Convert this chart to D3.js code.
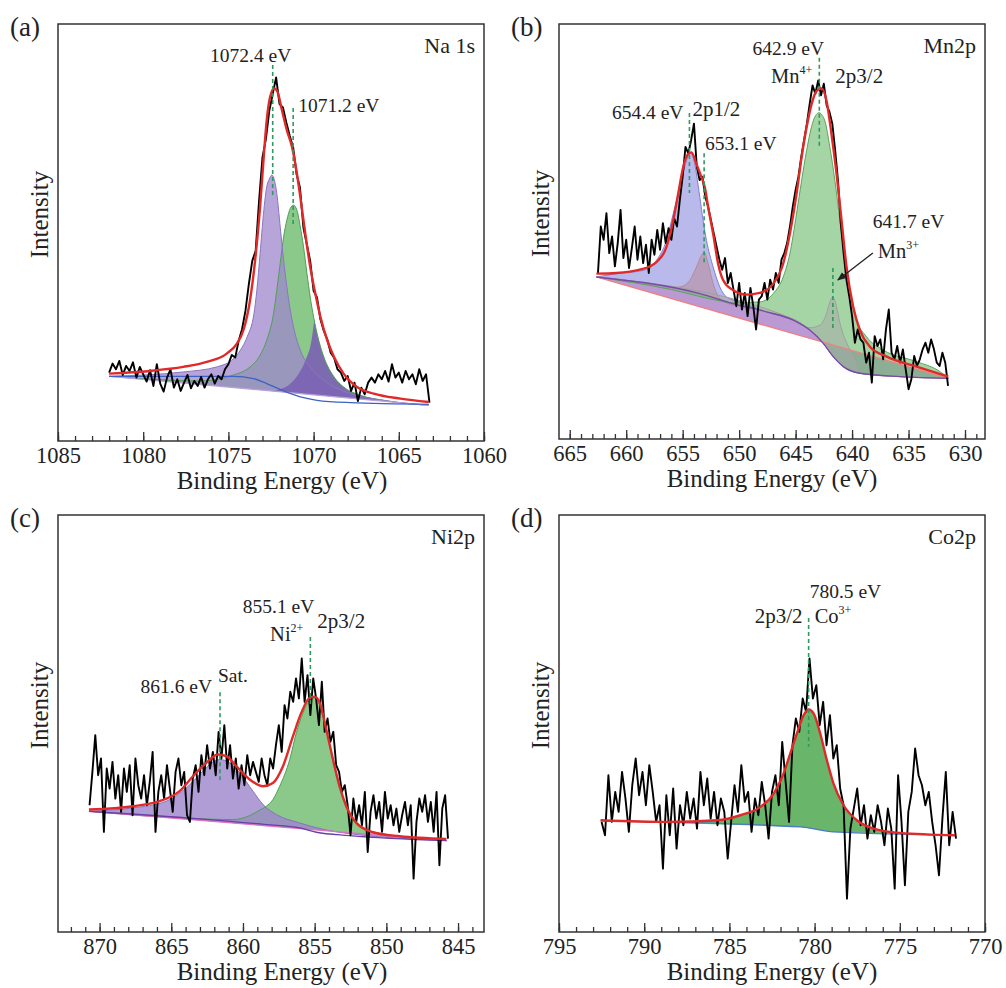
<!DOCTYPE html>
<html>
<head>
<meta charset="utf-8">
<script src="https://cdn.jsdelivr.net/npm/d3@7"></script>
<style>
body { margin: 0; background: #fff; }
svg text { font-family: "Liberation Serif", "Times New Roman", serif; fill: #222; }
</style>
</head>
<body>
<svg id="chart" width="1006" height="988"></svg>
<script>
// ---------- data (intensity in arbitrary units, 0..1250 = full box height) ----------

// (a) Na 1s
var naRawStart = 1082.0, naRawStep = -0.2;
var naRaw = [205,232,215,240,198,225,210,236,190,222,
  200,178,212,165,230,172,148,190,215,160,
  185,150,175,198,158,180,165,192,160,185,
  200,172,195,185,215,230,258,250,300,335,
  390,470,540,570,720,850,905,990,1040,1090,
  1010,1000,955,915,880,800,760,640,590,540,
  450,430,365,330,305,265,250,215,205,180,
  195,150,175,120,160,140,175,190,175,200,
  185,210,178,230,190,205,175,210,185,200,
  170,215,180,200,115];
var naBaseline = [[1082.0,194],[1063.24,107]];
var naShirley = [[1082.0,194],[1074.7,194],[1073.53,187],[1072.75,172],[1071.76,150],[1070.78,132],[1069.8,122],[1067.84,115],[1063.24,110]];
var naPeak1 = [[1082.0,194],[1077.65,207],[1075.69,222],[1074.7,247],[1074.3,272],[1073.9,312],[1073.5,382],[1073.33,452],[1073.14,562],[1072.94,682],[1072.75,762],[1072.6,785],[1072.45,797],[1072.3,782],[1072.16,742],[1071.96,642],[1071.76,542],[1071.57,462],[1071.37,392],[1071.18,342],[1070.78,272],[1070.2,222],[1069.4,182],[1067.84,142],[1065.9,122],[1063.24,107]];
var naPeak2 = [[1082.0,194],[1076.67,180],[1074.7,198],[1073.73,222],[1073.14,257],[1072.75,302],[1072.35,382],[1072.16,452],[1071.96,532],[1071.76,612],[1071.57,662],[1071.37,697],[1071.18,707],[1070.98,692],[1070.78,642],[1070.59,582],[1070.39,502],[1070.2,432],[1070.0,372],[1069.7,302],[1069.4,252],[1068.8,192],[1068.24,162],[1067.25,137],[1065.9,122],[1063.24,107]];
var naEnvelope = [[1082.0,202],[1079.6,210],[1077.65,222],[1076.27,237],[1075.1,262],[1074.5,292],[1074.12,332],[1073.73,422],[1073.43,542],[1073.14,702],[1072.94,842],[1072.75,962],[1072.55,1032],[1072.31,1057],[1072.12,1047],[1071.86,992],[1071.57,932],[1071.27,882],[1070.98,802],[1070.78,732],[1070.49,622],[1070.2,522],[1069.9,442],[1069.6,372],[1069.2,302],[1068.8,252],[1068.24,202],[1067.45,162],[1066.47,142],[1064.9,127],[1063.24,117]];
var naMarks = [1072.4, 1071.2];
var naMarkText = ["1072.4 eV", "1071.2 eV"];

// (b) Mn 2p
var mnRawStart = 662.5, mnRawStep = -0.25;
var mnRaw = [500,640,600,680,560,610,520,590,690,545,
  600,515,575,640,540,610,530,585,500,600,
  555,630,570,650,590,635,600,665,640,720,
  790,880,860,900,950,820,780,790,730,700,
  660,620,580,540,510,545,470,500,450,400,
  470,390,440,370,455,400,330,420,430,470,
  420,480,450,500,470,540,560,590,640,700,
  750,790,850,900,950,1010,1065,1040,1080,1035,
  1070,1005,985,950,870,780,650,560,480,430,
  370,290,330,300,290,230,260,170,310,280,
  300,240,330,390,260,240,280,230,270,210,
  150,180,250,220,240,270,290,260,300,270,
  230,220,260,230,160];
var mnBaseline = [[662.64,488],[631.48,183]];
var mnShirley = [[662.64,488],[653.48,438],[650.53,408],[647.58,383],[645.21,358],[643.74,328],[642.55,288],[641.67,248],[640.78,218],[639.31,198],[635.76,188],[631.48,183]];
var mnPeak654 = [[662.64,488],[660.87,498],[658.5,508],[657.32,538],[656.44,598],[655.84,678],[655.25,758],[654.66,838],[654.37,863],[654.07,848],[653.78,798],[653.48,728],[653.19,658],[652.89,598],[652.3,518],[651.71,458],[651.12,428],[649.94,413],[647.58,383],[644.62,350],[643.74,328],[642.55,288],[641.67,248],[640.78,218],[639.31,198],[635.76,188],[631.48,183]];
var mnPeak653 = [[662.64,488],[658.5,470],[656.44,455],[655.25,458],[654.37,478],[653.78,518],[653.33,553],[653.1,563],[652.74,528],[652.3,468],[651.71,423],[650.82,406],[649.94,400],[647.58,383],[644.62,350],[643.74,328],[642.55,288],[641.67,248],[640.78,218],[639.31,198],[635.76,188],[631.48,183]];
var mnPeak643 = [[662.64,488],[656.0,450],[652.0,418],[650.53,410],[648.17,413],[646.98,438],[646.1,488],[645.51,558],[644.92,678],[644.47,778],[644.03,868],[643.44,958],[643.15,978],[642.91,983],[642.65,975],[642.41,958],[641.96,878],[641.52,778],[641.08,658],[640.63,538],[640.19,438],[639.6,358],[638.72,308],[637.24,268],[634.29,233],[632.3,205],[631.48,183]];
var mnPeak642 = [[662.64,488],[645.0,358],[643.74,335],[642.85,343],[642.26,378],[641.96,413],[641.7,428],[641.37,398],[641.08,350],[640.78,315],[640.34,280],[639.6,230],[639.31,198],[635.76,188],[631.48,183]];
var mnEnvelope = [[662.64,498],[660.87,500],[658.8,510],[657.32,533],[656.44,578],[655.84,658],[655.4,738],[654.96,818],[654.52,858],[654.22,863],[653.78,828],[653.33,788],[653.04,758],[652.74,698],[652.3,618],[651.86,528],[651.41,478],[650.53,448],[649.35,435],[648.17,440],[646.98,468],[646.1,528],[645.51,618],[644.92,738],[644.47,848],[644.03,938],[643.59,1008],[643.15,1048],[642.7,1056],[642.26,1018],[641.82,918],[641.37,798],[640.93,658],[640.49,518],[639.9,398],[639.31,328],[638.42,278],[636.94,248],[634.29,218],[631.48,188]];
var mnMarks = [642.9, 654.4, 653.1, 641.7];
var mnMarkText = ["642.9 eV", "654.4 eV", "653.1 eV", "641.7 eV"];

// (c) Ni 2p
var niRawStart = 870.7, niRawStep = -0.2;
var niRaw = [380,480,590,470,520,300,490,430,510,400,
  470,360,490,420,500,350,520,440,400,470,
  380,450,540,300,420,470,400,500,430,360,
  480,520,440,480,350,330,460,500,420,530,
  470,560,490,540,470,600,520,620,490,560,
  460,520,430,500,440,530,470,510,480,450,
  520,470,440,520,490,560,620,540,680,640,
  720,690,760,700,820,690,770,650,760,700,
  620,750,600,640,570,600,500,480,420,440,
  380,290,400,330,380,320,420,240,360,410,
  340,390,300,420,340,380,320,370,300,350,
  390,320,380,160,330,400,360,410,330,390,
  300,420,200,370,410,280];
var niBaseline = [[870.74,362],[845.81,274]];
var niShirley = [[870.74,362],[863.02,339],[858.37,322],[856.05,312],[854.88,299],[852.56,289],[845.81,274]];
var niPeakSat = [[870.74,362],[867.67,372],[865.35,392],[863.95,432],[863.02,472],[862.33,502],[861.6,517],[860.93,507],[860.23,477],[859.3,422],[858.6,382],[857.67,352],[856.05,327],[853.72,302],[845.81,274]];
var niPeakMain = [[870.74,362],[863.5,340],[860.7,337],[859.53,349],[858.84,365],[858.37,377],[857.91,397],[857.44,437],[856.74,517],[856.28,597],[855.81,657],[855.35,695],[855.09,702],[854.77,692],[854.42,647],[853.95,557],[853.49,467],[853.02,397],[852.33,337],[851.4,307],[849.07,287],[845.81,274]];
var niEnvelope = [[870.74,367],[867.67,377],[865.81,392],[864.42,422],[863.49,467],[862.56,507],[861.74,532],[861.16,527],[860.47,497],[859.53,457],[858.6,437],[857.91,447],[857.21,497],[856.51,587],[855.93,657],[855.35,702],[855.0,705],[854.65,687],[854.19,607],[853.72,517],[853.26,437],[852.79,377],[852.09,327],[850.93,299],[849.07,287],[845.81,279]];
var niMarks = [855.3, 861.6];
var niMarkText = ["855.1 eV", "861.6 eV"];

// (d) Co 2p
var coRawStart = 792.5, coRawStep = -0.2;
var coRaw = [330,290,470,330,420,360,480,400,300,440,
  520,410,480,380,500,420,330,380,190,410,
  290,430,250,380,320,420,340,400,310,480,
  380,460,340,420,320,400,360,220,330,440,
  360,500,390,420,300,400,350,450,380,280,
  420,470,380,570,450,330,560,640,600,700,
  660,820,700,740,620,690,560,650,520,560,
  430,380,100,310,370,430,320,380,280,350,
  300,380,330,260,370,310,130,470,330,140,
  360,420,550,470,440,380,420,330,260,170,
  340,480,260,360,280];
var coBackground = [[792.56,333],[780.84,315],[778.89,300],[771.76,290]];
var coEnvelope = [[792.56,335],[788.65,330],[785.72,335],[784.36,350],[783.18,375],[782.4,415],[781.82,475],[781.43,535],[781.04,595],[780.64,650],[780.35,667],[780.06,655],[779.67,595],[779.28,515],[778.89,445],[778.3,380],[777.52,335],[776.54,310],[774.98,297],[771.76,290]];
var coMarks = [780.35];
var coMarkText = ["780.5 eV"];

function rawPoints(start, step, vals) {
  return vals.map(function(v, i) { return [start + i * step, v]; });
}

// ---------- panels ----------
var panels = [
  {id: "a", letter: "(a)", title: "Na 1s", box: [58, 24, 426, 417], domain: [1085, 1060], titleX: 282,
   raw: rawPoints(naRawStart, naRawStep, naRaw), envelope: naEnvelope,
   fills: [
     {pts: naPeak2, fill: "#6dbb6d", op: 0.8, stroke: "#4f9f55"},
     {pts: naPeak1, fill: "#9f86cc", op: 0.75, stroke: "#8b74c4"}
   ],
   overlap: {clip: naPeak1, pts: naPeak2, fill: "#7a62b2"},
   lines: [{pts: naBaseline, stroke: "#b9a0dc", w: 1.2}, {pts: naShirley, stroke: "#3d62c4", w: 1.3}],
   marks: naMarks,
   dashes: [{m: 0, i0: 1127, i1: 731}, {m: 1, i0: 998, i1: 642}],
   notes: [
     {m: 0, t: naMarkText[0], dx: -22, y: 38, a: "middle"},
     {m: 1, t: naMarkText[1], dx: 5, y: 88, a: "start"}
   ]},
  {id: "b", letter: "(b)", title: "Mn2p", box: [559, 24, 426, 415], domain: [665.95, 628.23], titleX: 772,
   raw: rawPoints(mnRawStart, mnRawStep, mnRaw), envelope: mnEnvelope,
   fills: [
     {pts: mnShirley, fill: "#8d55b5", op: 0.6, stroke: null},
     {pts: mnPeak654, floor: mnShirley, fill: "#8e8ee0", op: 0.62, stroke: "#7f80d6"},
     {pts: mnPeak653, floor: mnShirley, fill: "#b88a98", op: 0.55, stroke: "#b58a9a"},
     {pts: mnPeak643, floor: mnShirley, fill: "#6dbb6d", op: 0.62, stroke: "#5aa55a"},
     {pts: mnPeak642, floor: mnShirley, fill: "#a8a8a8", op: 0.5, stroke: "#a0a0a0"}
   ],
   lines: [{pts: mnBaseline, stroke: "#f08080", w: 1.3}, {pts: mnShirley, stroke: "#7a4aa8", w: 1.3}],
   marks: mnMarks,
   dashes: [{m: 0, i0: 1148, i1: 880}, {m: 1, i0: 982, i1: 741}, {m: 2, i0: 861, i1: 530}, {m: 3, i0: 515, i1: 334}],
   notes: [
     {m: 0, t: mnMarkText[0], dx: -31, y: 31, a: "middle"},
     {m: 0, t: "Mn", sup: "4+", dx: -7, y: 59, a: "end", s: 20.5},
     {m: 0, t: "2p3/2", dx: 16, y: 59, a: "start", s: 21},
     {m: 1, t: mnMarkText[1], dx: -6, y: 95, a: "end"},
     {m: 1, t: "2p1/2", dx: 3, y: 92, a: "start", s: 21},
     {m: 2, t: mnMarkText[2], dx: 1, y: 126, a: "start"},
     {m: 3, t: mnMarkText[3], dx: 40, y: 204, a: "start"},
     {m: 3, t: "Mn", sup: "3+", dx: 45, y: 234, a: "start", s: 20.5}
   ],
   arrow: {m: 3, x1: 40, y1: 229, x2: 5, y2: 256}},
  {id: "c", letter: "(c)", title: "Ni2p", box: [58, 515, 426, 417], domain: [872.9, 843.19], titleX: 282,
   raw: rawPoints(niRawStart, niRawStep, niRaw), envelope: niEnvelope,
   fills: [
     {pts: niPeakMain, fill: "#6dbb6d", op: 0.8, stroke: "#4f9f55"},
     {pts: niPeakSat, fill: "#9e84cc", op: 0.8, stroke: "#8a6fc4"}
   ],
   overlap: {clip: niPeakSat, pts: niPeakMain, fill: "#6e58aa"},
   lines: [{pts: niBaseline, stroke: "#e070c0", w: 1.3}, {pts: niShirley, stroke: "#6a3fa8", w: 1.3}],
   marks: niMarks,
   dashes: [{m: 0, i0: 884, i1: 675}, {m: 1, i0: 719, i1: 456}],
   notes: [
     {m: 0, t: niMarkText[0], dx: 4, y: 98, a: "end"},
     {m: 0, t: "Ni", sup: "2+", dx: -7, y: 126, a: "end", s: 20.5},
     {m: 0, t: "2p3/2", dx: 7, y: 113, a: "start", s: 21},
     {m: 1, t: niMarkText[1], dx: -8, y: 178, a: "end"},
     {m: 1, t: "Sat.", dx: -2, y: 167, a: "start"}
   ]},
  {id: "d", letter: "(d)", title: "Co2p", box: [559, 515, 426, 417], domain: [795, 770], titleX: 772,
   raw: rawPoints(coRawStart, coRawStep, coRaw), envelope: coEnvelope,
   fills: [
     {pts: coEnvelope, floor: coBackground, fill: "#4fa84f", op: 0.85, stroke: null}
   ],
   lines: [{pts: coBackground, stroke: "#4a7ac8", w: 1.3}],
   marks: coMarks,
   dashes: [{m: 0, i0: 941, i1: 555}],
   notes: [
     {m: 0, t: coMarkText[0], dx: 1, y: 83, a: "start"},
     {m: 0, t: "2p3/2", dx: -6, y: 108, a: "end", s: 21},
     {m: 0, t: "Co", sup: "3+", dx: 6, y: 108, a: "start", s: 20.5}
   ]}
];

var FONT = '"Liberation Serif", "Times New Roman", serif';
var svg = d3.select("#chart");
var yDomain = [0, 1250];

svg.append("defs").append("marker")
  .attr("id", "arrowhead")
  .attr("viewBox", "0 0 10 10")
  .attr("refX", 9).attr("refY", 5)
  .attr("markerWidth", 7).attr("markerHeight", 7)
  .attr("orient", "auto")
  .append("path").attr("d", "M0,1L10,5L0,9Z").attr("fill", "#222");

function drawPanel(p) {
  var bx = p.box[0], by = p.box[1], bw = p.box[2], bh = p.box[3];
  var g = svg.append("g").attr("transform", `translate(${bx},${by})`);

  var x = d3.scaleLinear().domain(p.domain).range([0, bw]);
  var y = d3.scaleLinear().domain(yDomain).range([bh, 0]);

  var smooth = d3.line().x(d => x(d[0])).y(d => y(d[1])).curve(d3.curveMonotoneX);
  var straight = d3.line().x(d => x(d[0])).y(d => y(d[1]));

  function areaPath(f) {
    if (f.floor) {
      var back = f.floor.slice().reverse();
      return smooth(f.pts) + "L" + straight(back).slice(1) + "Z";
    }
    return smooth(f.pts) + "Z";
  }

  // component fills
  p.fills.forEach(function(f) {
    g.append("path").attr("d", areaPath(f))
      .attr("fill", f.fill).attr("fill-opacity", f.op).attr("stroke", "none");
  });

  // where two components overlap, darker tone
  if (p.overlap) {
    var cid = "clip-" + p.id;
    svg.select("defs").append("clipPath").attr("id", cid)
      .append("path").attr("d", smooth(p.overlap.clip) + "Z")
      .attr("transform", `translate(${bx},${by})`);
    svg.append("path").attr("d", smooth(p.overlap.pts) + "Z")
      .attr("transform", `translate(${bx},${by})`)
      .attr("clip-path", `url(#${cid})`)
      .attr("fill", p.overlap.fill).attr("fill-opacity", 0.9);
  }

  var top = svg.append("g").attr("transform", `translate(${bx},${by})`);

  p.fills.forEach(function(f) {
    if (!f.stroke) return;
    top.append("path").attr("d", smooth(f.pts))
      .attr("fill", "none").attr("stroke", f.stroke).attr("stroke-width", 1);
  });

  p.lines.forEach(function(l) {
    top.append("path").attr("d", smooth(l.pts))
      .attr("fill", "none").attr("stroke", l.stroke).attr("stroke-width", l.w);
  });

  // measured spectrum
  top.append("path").attr("d", straight(p.raw))
    .attr("fill", "none").attr("stroke", "#000").attr("stroke-width", 1.9)
    .attr("stroke-linejoin", "round");

  // fitted envelope
  top.append("path").attr("d", smooth(p.envelope))
    .attr("fill", "none").attr("stroke", "#e02a2a").attr("stroke-width", 2.4);

  // peak markers
  p.dashes.forEach(function(d) {
    var xm = x(p.marks[d.m]);
    top.append("line")
      .attr("x1", xm).attr("x2", xm).attr("y1", y(d.i0)).attr("y2", y(d.i1))
      .attr("stroke", "#2e9a5e").attr("stroke-width", 1.6).attr("stroke-dasharray", "4,3");
  });

  p.notes.forEach(function(n) {
    var xm = x(p.marks[n.m]);
    var t = top.append("text")
      .attr("x", xm + n.dx).attr("y", n.y)
      .attr("text-anchor", n.a)
      .attr("font-family", FONT)
      .attr("font-size", n.s || 19.5)
      .text(n.t);
    if (n.sup) {
      t.append("tspan").attr("dy", -9).attr("font-size", 12).text(n.sup);
    }
  });

  if (p.arrow) {
    var xa = x(p.marks[p.arrow.m]);
    top.append("line")
      .attr("x1", xa + p.arrow.x1).attr("y1", p.arrow.y1)
      .attr("x2", xa + p.arrow.x2).attr("y2", p.arrow.y2)
      .attr("stroke", "#222").attr("stroke-width", 1.3)
      .attr("marker-end", "url(#arrowhead)");
  }

  // frame
  top.append("rect").attr("width", bw).attr("height", bh)
    .attr("fill", "none").attr("stroke", "#333").attr("stroke-width", 1.5);

  // ticks: minor every 1 eV, major every 5 eV, pointing inward
  var lo = Math.ceil(d3.min(p.domain)), hi = Math.floor(d3.max(p.domain));
  var minor = d3.range(lo, hi + 1);
  var major = minor.filter(v => v % 5 === 0);

  top.append("g").attr("transform", `translate(0,${bh})`)
    .call(d3.axisBottom(x).tickValues(minor).tickSize(-5).tickFormat(""))
    .attr("color", "#333")
    .call(a => a.select(".domain").remove())
    .call(a => a.selectAll("line").attr("stroke-width", 1.3));

  top.append("g").attr("transform", `translate(0,${bh})`)
    .call(d3.axisBottom(x).tickValues(major).tickSize(-9).tickPadding(6).tickFormat(d3.format("d")))
    .attr("color", "#333")
    .attr("font-family", FONT)
    .attr("font-size", 22.5)
    .call(a => a.select(".domain").remove())
    .call(a => a.selectAll("line").attr("stroke-width", 1.3));

  // labels
  svg.append("text").attr("x", bx - 48).attr("y", by + 12)
    .attr("font-family", FONT).attr("font-size", 27).text(p.letter);

  svg.append("text").attr("x", bx + bw - 9).attr("y", by + 29)
    .attr("text-anchor", "end").attr("font-family", FONT).attr("font-size", 22).text(p.title);

  svg.append("text").attr("x", p.titleX).attr("y", by + bh + 48)
    .attr("text-anchor", "middle").attr("font-family", FONT).attr("font-size", 25)
    .text("Binding Energy (eV)");

  svg.append("text")
    .attr("transform", `translate(${bx - 10},${by + bh / 2 - 18}) rotate(-90)`)
    .attr("text-anchor", "middle").attr("font-family", FONT).attr("font-size", 25)
    .text("Intensity");
}

panels.forEach(drawPanel);
</script>
</body>
</html>
